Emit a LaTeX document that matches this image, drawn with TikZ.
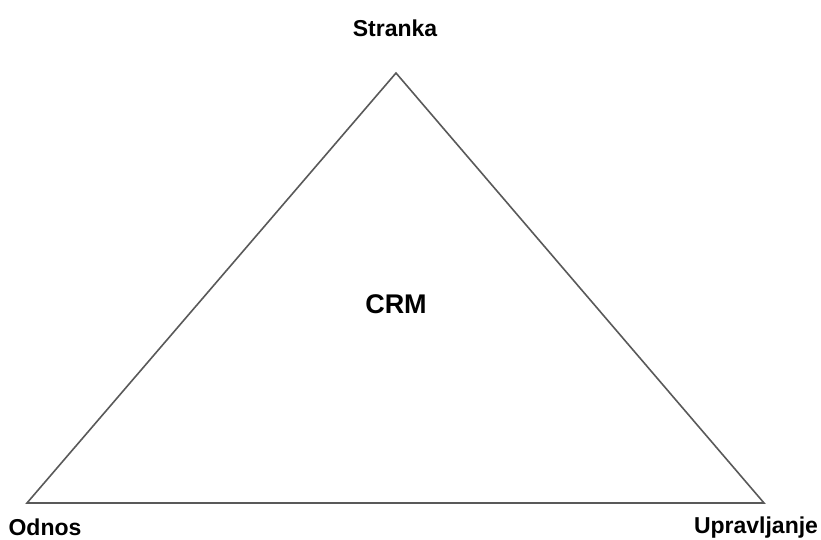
\documentclass[tikz,border=0pt]{standalone}
\usepackage{fontspec}
\setmainfont{Liberation Sans}
\begin{document}
\begin{tikzpicture}[x=1pt,y=1pt,
  lbl/.style={font=\fontsize{23}{27}\selectfont\bfseries, inner sep=0pt},
  side/.style={draw=black!65, line width=1.6pt, line join=miter}]
\useasboundingbox (0,0) rectangle (821,540);
\coordinate (top) at (396,467);
\coordinate (left) at (27,37);
\coordinate (right) at (764,37);
\draw[side] (top) -- (right) -- (left) -- cycle;
\node[lbl] (stranka) at (395,512) {Stranka};
\node[lbl, font=\fontsize{27}{31}\selectfont\bfseries] (crm) at (396,236) {CRM};
\node[lbl] (odnos) at (45,13) {Odnos};
\node[lbl] (upr) at (756,12) {Upravljanje};
\end{tikzpicture}
\end{document}
